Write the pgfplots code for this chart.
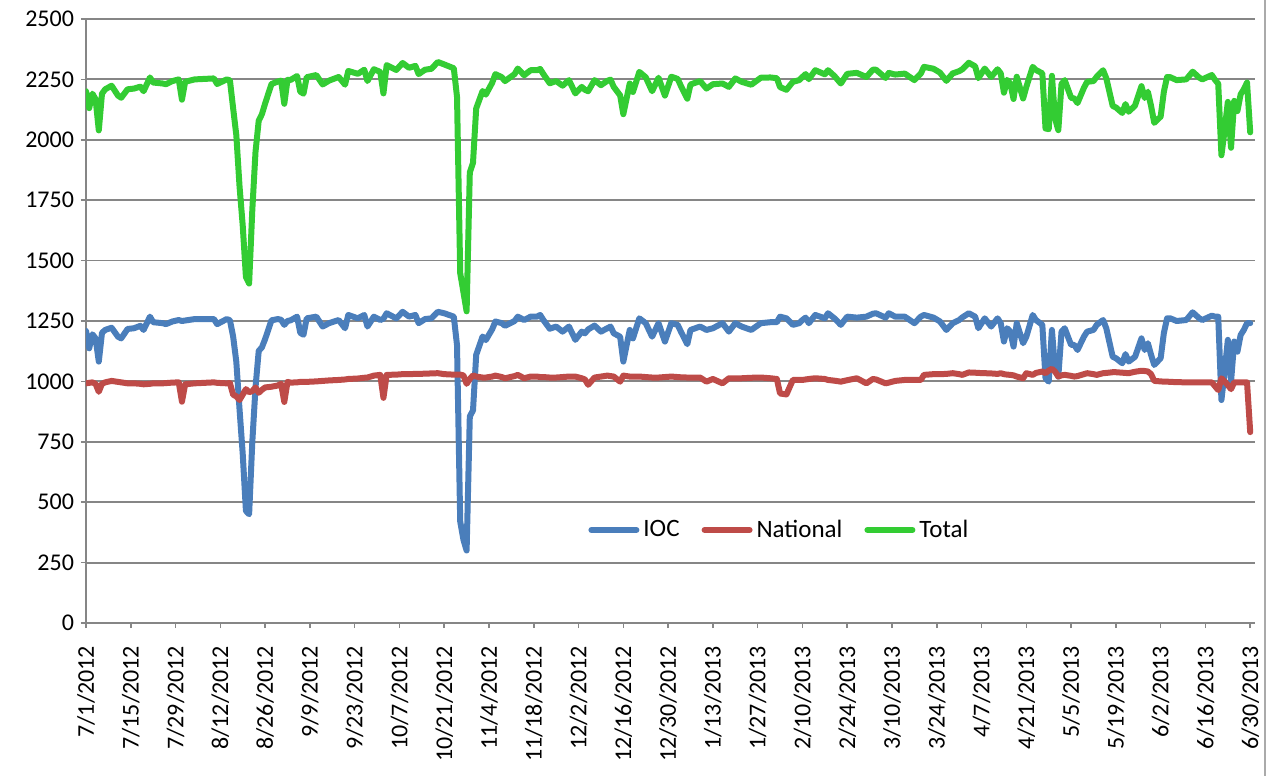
\documentclass[border=0pt]{standalone}
\usepackage{fontspec}
\setmainfont{Carlito}
\usepackage{pgfplots}
\usepackage{pgfplotstable}
\pgfplotsset{compat=1.18}

\definecolor{iocblue}{HTML}{4A7EBB}
\definecolor{natred}{HTML}{BE4B48}
\definecolor{totgreen}{HTML}{33CC33}
\definecolor{gridgray}{HTML}{868686}

% day (0 = 7/1/2012), IOC, National, Total
\pgfplotstableread{
day ioc nat tot
0 1209 992 2201
1 1137 994 2131
2 1195 996 2191
3 1178 990 2168
4 1082 957 2039
5 1201 990 2191
6 1213 996 2209
8 1222 1002 2224
10 1185 998 2183
11 1178 996 2174
13 1217 992 2209
15 1220 992 2212
17 1230 990 2220
18 1213 988 2201
20 1268 990 2258
21 1245 992 2237
24 1241 992 2233
25 1237 993 2230
27 1248 995 2243
29 1254 996 2250
30 1250 916 2166
31 1252 988 2240
34 1258 992 2250
37 1258 994 2252
40 1258 996 2254
41 1237 994 2231
44 1258 992 2250
45 1253 993 2246
46 1186 945 2131
47 1081 938 2019
48 885 923 1808
49 700 945 1645
50 464 968 1432
51 450 955 1405
52 750 960 1710
53 975 975 1950
54 1126 953 2079
55 1141 965 2106
56 1175 975 2150
58 1253 978 2231
60 1258 983 2241
61 1255 990 2245
62 1234 915 2149
63 1250 998 2248
64 1253 995 2248
66 1268 996 2264
67 1201 998 2199
68 1193 998 2191
69 1261 998 2259
72 1268 1000 2268
74 1227 1002 2229
76 1241 1004 2245
79 1254 1006 2260
81 1220 1008 2228
82 1275 1010 2285
85 1261 1012 2273
87 1275 1015 2290
88 1227 1016 2243
90 1268 1024 2292
92 1254 1027 2281
93 1260 932 2192
94 1282 1027 2309
97 1261 1028 2289
99 1288 1030 2318
101 1268 1030 2298
103 1275 1031 2306
104 1241 1031 2272
106 1258 1032 2290
108 1261 1033 2294
110 1288 1034 2322
112 1282 1030 2312
115 1268 1028 2296
116 1150 1028 2178
117 420 1028 1448
118 345 1025 1370
119 300 990 1290
120 855 1010 1865
121 880 1025 1905
122 1110 1020 2130
124 1186 1016 2202
125 1171 1016 2187
127 1216 1020 2236
128 1248 1024 2272
130 1241 1018 2259
131 1230 1013 2243
134 1250 1022 2272
135 1268 1027 2295
137 1254 1013 2267
139 1268 1020 2288
141 1268 1020 2288
142 1275 1018 2293
143 1254 1018 2272
145 1218 1016 2234
147 1227 1016 2243
149 1206 1018 2224
151 1227 1020 2247
153 1172 1020 2192
155 1206 1013 2219
156 1199 1008 2207
157 1215 986 2201
159 1231 1016 2247
161 1206 1020 2226
163 1220 1024 2244
164 1227 1022 2249
165 1199 1020 2219
167 1185 999 2184
168 1082 1024 2106
170 1213 1020 2233
171 1178 1020 2198
173 1261 1020 2281
175 1241 1018 2259
177 1185 1016 2201
179 1241 1016 2257
181 1165 1018 2183
183 1241 1020 2261
185 1234 1018 2252
186 1206 1017 2223
188 1154 1016 2170
189 1213 1016 2229
192 1227 1016 2243
194 1213 999 2212
196 1220 1010 2230
199 1241 992 2233
201 1206 1013 2219
203 1241 1013 2254
205 1227 1013 2240
208 1213 1015 2228
211 1241 1016 2257
214 1245 1013 2258
216 1245 1010 2255
217 1268 950 2218
219 1261 946 2207
221 1234 1006 2240
223 1241 1006 2247
224 1254 1006 2260
225 1264 1008 2272
226 1241 1010 2251
228 1275 1013 2288
231 1261 1010 2271
232 1282 1006 2288
234 1261 1003 2264
236 1234 999 2233
238 1268 1005 2273
241 1264 1013 2277
244 1268 992 2260
246 1280 1010 2290
247 1282 1008 2290
250 1264 992 2256
251 1282 995 2277
253 1268 1002 2270
256 1268 1006 2274
259 1241 1006 2247
261 1268 1006 2274
262 1275 1027 2302
265 1264 1030 2294
267 1248 1030 2278
269 1213 1031 2244
271 1241 1034 2275
273 1254 1030 2284
274 1265 1027 2292
276 1282 1037 2319
278 1268 1036 2304
279 1220 1035 2255
281 1261 1034 2295
283 1227 1033 2260
285 1261 1031 2292
286 1241 1034 2275
287 1165 1030 2195
288 1220 1028 2248
289 1206 1027 2233
290 1144 1025 2169
291 1241 1020 2261
293 1158 1013 2171
294 1185 1034 2219
296 1275 1027 2302
297 1254 1035 2289
299 1234 1041 2275
300 1013 1034 2047
301 999 1045 2044
302 1213 1052 2265
303 1047 1040 2087
304 1020 1020 2040
305 1206 1025 2231
306 1220 1027 2247
308 1151 1023 2174
309 1151 1020 2171
310 1130 1022 2152
312 1185 1030 2215
313 1206 1034 2240
315 1213 1030 2243
316 1234 1027 2261
318 1254 1034 2288
319 1220 1035 2255
321 1102 1038 2140
322 1096 1038 2134
324 1075 1036 2111
325 1113 1035 2148
326 1082 1034 2116
328 1102 1040 2142
330 1178 1044 2222
331 1130 1043 2173
332 1158 1041 2199
333 1110 1030 2140
334 1068 1002 2070
336 1096 1000 2096
337 1200 999 2199
338 1261 999 2260
339 1261 998 2259
341 1250 997 2247
344 1254 996 2250
346 1286 996 2282
348 1262 996 2258
349 1254 996 2250
352 1272 996 2268
353 1268 980 2248
354 1268 964 2232
355 923 1013 1936
356 1040 1000 2040
357 1172 985 2157
358 999 968 1967
359 1165 996 2161
360 1123 996 2119
361 1192 996 2188
362 1213 996 2209
363 1241 996 2237
364 1241 790 2031
}\data

\begin{document}
\begin{tikzpicture}
\begin{axis}[
  scale only axis,
  width=584.5pt, height=302pt,
  xmin=0, xmax=365.5,
  ymin=0, ymax=2500,
  xtick={0,14,...,364},
  xticklabels={7/1/2012,7/15/2012,7/29/2012,8/12/2012,8/26/2012,9/9/2012,9/23/2012,10/7/2012,10/21/2012,11/4/2012,11/18/2012,12/2/2012,12/16/2012,12/30/2012,1/13/2013,1/27/2013,2/10/2013,2/24/2013,3/10/2013,3/24/2013,4/7/2013,4/21/2013,5/5/2013,5/19/2013,6/2/2013,6/16/2013,6/30/2013},
  ytick={0,250,...,2500},
  /pgf/number format/assume math mode=true,
  /pgf/number format/1000 sep={},
  tick label style={font=\fontsize{12}{14}\selectfont, text=black},
  xticklabel style={rotate=90, anchor=east},
  xticklabel shift=5.5pt,
  tick align=outside,
  major tick length=2.5pt,
  tick style={gridgray, line width=0.75pt},
  ymajorgrids,
  grid style={gridgray, line width=0.9pt},
  axis x line*=bottom,
  axis y line*=left,
  axis line style={gridgray, line width=0.9pt, -},
  legend columns=3,
  legend style={at={(0.594,0.154)}, anchor=center, draw=none, fill=white,
    font=\fontsize{12.5}{14}\selectfont,
    /tikz/every even column/.append style={column sep=9pt}},
  legend image code/.code={\draw[#1] (0pt,0pt) -- (22.5pt,0pt);},
  every axis plot/.append style={line width=3pt, line join=round, line cap=round},
]
\addplot[iocblue] table[x=day, y=ioc] {\data};
\addlegendentry{IOC}
\addplot[natred] table[x=day, y=nat] {\data};
\addlegendentry{National}
\addplot[totgreen] table[x=day, y=tot] {\data};
\addlegendentry{Total}
\end{axis}
% right edge of the chart area
\draw[gridgray!70, line width=0.75pt] ([xshift=5pt,yshift=9.5pt]current axis.north east) -- ([xshift=5pt,yshift=-76.5pt]current axis.south east);
\pgfresetboundingbox
\path[use as bounding box] ([xshift=-43pt,yshift=-76.5pt]current axis.south west) rectangle ([xshift=9pt,yshift=9.5pt]current axis.north east);
\end{tikzpicture}
\end{document}
